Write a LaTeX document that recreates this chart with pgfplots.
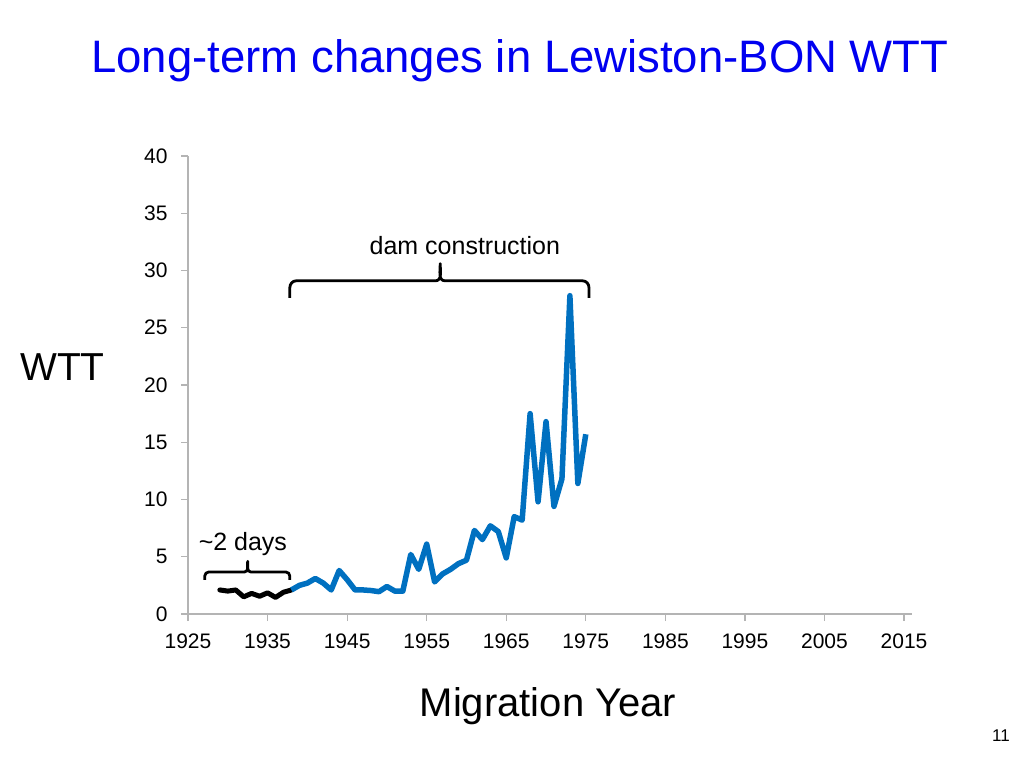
\documentclass[border=0pt]{standalone}
\usepackage{pgfplots}
\pgfplotsset{compat=1.18}
\usepackage{fontspec}
\setmainfont{Liberation Sans}
\definecolor{titleblue}{RGB}{0,0,240}
\definecolor{lineblue}{RGB}{0,112,192}
\definecolor{axgray}{RGB}{180,180,180}
\begin{document}
\begin{tikzpicture}[x=1pt,y=1pt]
\useasboundingbox (0,0) rectangle (1024,768);
\begin{axis}[
  at={(188pt,154pt)}, anchor=origin,
  scale only axis, width=724pt, height=458pt,
  xmin=1925, xmax=2016, ymin=0, ymax=40,
  axis x line*=bottom, axis y line*=left,
  axis line style={draw=axgray, line width=1.2pt, -},
  xtick={1925,1935,...,2015}, ytick={0,5,...,40},
  tick style={draw=axgray, line width=1.2pt},
  tick align=outside, major tick length=7pt,
  /pgf/number format/1000 sep={},
  /pgf/number format/assume math mode=true,
  tick label style={font=\fontsize{21}{25}\selectfont, text=black},
  xticklabel style={yshift=-9pt},
  yticklabel style={xshift=-10pt},
  clip=false,
]
% pre-dam (black)
\addplot[black, line width=5pt, line join=round, line cap=round] coordinates {
(1929,2.1)(1930,2.0)(1931,2.1)(1932,1.5)(1933,1.8)(1934,1.55)(1935,1.85)(1936,1.45)(1937,1.9)(1938,2.1)
};
% blue
\addplot[lineblue, line width=5.5pt, line join=round] coordinates {
(1938,2.1)(1939,2.5)(1940,2.7)(1941,3.1)(1942,2.7)(1943,2.1)(1944,3.8)(1945,3.0)(1946,2.1)(1947,2.1)
(1948,2.05)(1949,1.95)(1950,2.4)(1951,2.0)(1952,2.0)(1953,5.2)(1954,3.9)(1955,6.1)(1956,2.8)(1957,3.5)
(1958,3.9)(1959,4.4)(1960,4.7)(1961,7.3)(1962,6.5)(1963,7.7)(1964,7.2)(1965,4.9)(1966,8.5)(1967,8.2)
(1968,17.5)(1969,9.8)(1970,16.8)(1971,9.4)(1972,11.8)(1973,27.8)(1974,11.4)(1975,15.7)
};
% dam construction brace
\draw[black, line width=2.8pt, line join=round]
  (axis cs:1937.8,27.6) -- (axis cs:1937.8,28.5) to[out=90,in=180] (axis cs:1938.6,29.1)
  -- (axis cs:1956.1,29.1) to[out=0,in=-90] (axis cs:1956.7,30.6)
  to[out=-90,in=180] (axis cs:1957.3,29.1) -- (axis cs:1974.6,29.1)
  to[out=0,in=90] (axis cs:1975.4,28.5) -- (axis cs:1975.4,27.6);
\node[font=\fontsize{25}{30}\selectfont] at (axis cs:1959.8,32.2) {dam construction};
% 2 days brace
\draw[black, line width=2.8pt, line join=round]
  (axis cs:1927.1,2.97) -- (axis cs:1927.1,3.3) to[out=90,in=180] (axis cs:1927.6,3.67)
  -- (axis cs:1932.1,3.67) to[out=0,in=-90] (axis cs:1932.5,4.6)
  to[out=-90,in=180] (axis cs:1932.9,3.67) -- (axis cs:1937.3,3.67)
  to[out=0,in=90] (axis cs:1937.8,3.3) -- (axis cs:1937.8,2.97);
\node[font=\fontsize{25}{30}\selectfont] at (axis cs:1931.9,6.1) {\textasciitilde 2 days};
\end{axis}
\node[anchor=base, text=titleblue, font=\fontsize{45.5}{54}\selectfont] at (520,695) {Long-term changes in Lewiston-BON WTT};
\node[anchor=base west, inner sep=0pt, font=\fontsize{39}{46}\selectfont] at (20,387) {WTT};
\node[anchor=base, font=\fontsize{40}{48}\selectfont] at (548,52) {Migration Year};
\node[anchor=base east, inner sep=0pt, font=\fontsize{17}{20}\selectfont] at (1010,27) {11};
\end{tikzpicture}
\end{document}
